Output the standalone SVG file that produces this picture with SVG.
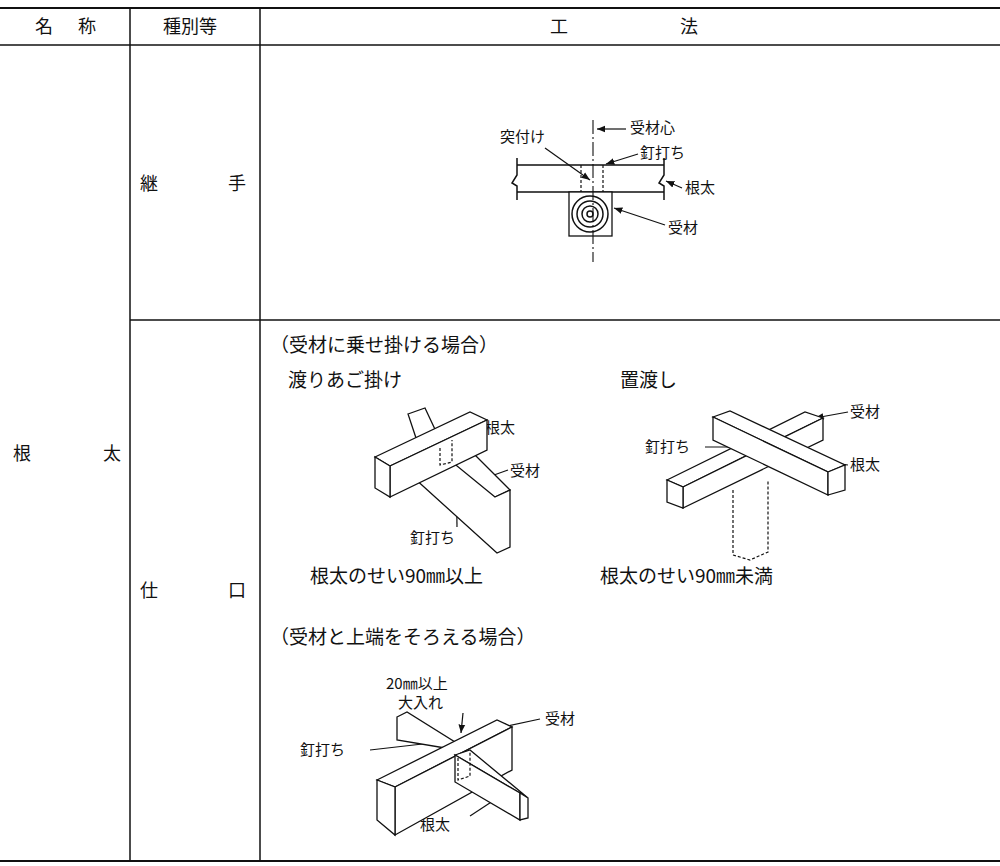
<svg xmlns="http://www.w3.org/2000/svg" width="1000" height="866" viewBox="0 0 1000 866">
<defs>
<marker id="ar" viewBox="0 0 10 10" refX="10" refY="5" markerWidth="7" markerHeight="7" orient="auto"><path d="M0,1 L10,5 L0,9 z" fill="#111"/></marker>
</defs>
<style>
.t{font-family:"Noto Sans CJK JP","Liberation Serif",serif;fill:#111}
.h{font-size:18px}.l{font-size:15px}.b{font-size:19px}
.g{stroke:#111;stroke-width:1.5;fill:none}
.w{stroke:#111;stroke-width:1.3;fill:#fff}
.d{stroke:#111;stroke-width:1.2;fill:none;stroke-dasharray:3,2}
.ld{stroke:#111;stroke-width:1.2;fill:none;marker-end:url(#ar)}
</style>
<rect width="1000" height="866" fill="#fff"/>
<g id="table" class="g">
<line x1="0" y1="8" x2="1000" y2="8" stroke-width="2"/>
<line x1="0" y1="45" x2="1000" y2="45"/>
<line x1="0" y1="861" x2="1000" y2="861" stroke-width="2"/>
<line x1="130" y1="8" x2="130" y2="861"/>
<line x1="260" y1="8" x2="260" y2="861"/>
<line x1="130" y1="320" x2="1000" y2="320"/>
</g>
<g id="headers">
<text class="t h" x="35" y="33">名</text><text class="t h" x="78" y="33">称</text>
<text class="t h" x="163" y="33">種別等</text>
<text class="t h" x="550" y="33">工</text><text class="t h" x="680" y="33">法</text>
<text class="t h" x="13" y="460">根</text><text class="t h" x="103" y="460">太</text>
<text class="t h" x="140" y="190">継</text><text class="t h" x="228" y="190">手</text>
<text class="t h" x="140" y="597">仕</text><text class="t h" x="228" y="597">口</text>
</g>
<g id="joint">
<path class="g" d="M517,165 H664 M517,192 H664 M517,158 V175 L512,183 L517,186 V200 M664,158 V175 L659,183 L664,186 V200"/>
<rect class="w" x="569" y="192" width="43" height="44" fill="#eee"/>
<g class="g" stroke-width="0.9"><circle cx="590" cy="214" r="18"/><circle cx="590" cy="214" r="13"/><circle cx="590" cy="214" r="8"/><circle cx="590" cy="214" r="3"/></g>
<line x1="593" y1="120" x2="593" y2="262" stroke="#111" stroke-width="1.1" stroke-dasharray="14,3,2,3"/>
<line class="d" x1="581" y1="165" x2="581" y2="192"/><line class="d" x1="603" y1="165" x2="603" y2="192"/>
<text class="t l" x="630" y="133">受材心</text>
<text class="t l" x="500" y="142">突付け</text>
<text class="t l" x="640" y="158">釘打ち</text>
<text class="t l" x="685" y="193">根太</text>
<text class="t l" x="668" y="233">受材</text>
</g>
<g id="conn" class="ld">
<path d="M626,129 H597"/><path d="M545,148 L590,180"/><path d="M638,154 L606,164"/><path d="M682,188 L666,181"/><path d="M665,225 L614,208"/>
<path d="M481,428 L467,428"/><path d="M508,470 L480,480"/><path d="M457,527 L456,445"/>
<path d="M848,412 L815,418"/><path d="M705,447 L743,447"/><path d="M848,465 L812,460"/>
<path d="M540,719 L498,728"/><path d="M370,750 L440,742"/><path d="M463,713 L461,733"/><path d="M470,816 L505,793"/>
</g>
<g id="upper">
<text class="t b" x="270" y="352">（受材に乗せ掛ける場合）</text>
<text class="t b" x="288" y="387">渡りあご掛け</text>
<text class="t b" x="620" y="387">置渡し</text>
<text class="t b" x="310" y="583">根太のせい90㎜以上</text>
<text class="t b" x="600" y="583">根太のせい90㎜未満</text>
<text class="t l" x="485" y="433">根太</text>
<text class="t l" x="510" y="476">受材</text>
<text class="t l" x="410" y="543">釘打ち</text>
<text class="t l" x="850" y="417">受材</text>
<text class="t l" x="645" y="452">釘打ち</text>
<text class="t l" x="850" y="470">根太</text>
</g>
<g id="d1">
<polygon class="w" points="408,414 425,408 440,440 420,450"/>
<polygon class="w" points="430,450 460,440 510,490 495,497 413,477"/>
<polygon class="w" points="495,497 510,490 510,547 497,553 413,477 440,452"/>
<polygon class="w" points="375,457 470,412 487,420 390,466"/>
<polygon class="w" points="390,466 487,420 487,450 390,497"/>
<polygon class="w" points="375,457 390,466 390,497 375,488" fill="#e6e6e6"/>
<path class="d" d="M440,448 L440,465 L452,462 L452,440"/>
</g>
<g id="d2">
<path class="d" d="M733,490 V555 L750,560 L768,552 V480"/>
<polygon class="w" points="667,480 805,412 823,418 683,487"/>
<polygon class="w" points="683,487 823,418 823,440 683,508"/>
<polygon class="w" points="667,480 683,487 683,508 667,502"/>
<polygon class="w" points="713,417 730,411 845,465 828,472"/>
<polygon class="w" points="713,417 828,472 828,495 713,440"/>
<polygon class="w" points="828,472 845,465 845,490 828,495"/>
</g>
<g id="lower">
<text class="t b" x="270" y="644">（受材と上端をそろえる場合）</text>
<text class="t l" x="386" y="689">20㎜以上</text>
<text class="t l" x="398" y="708">大入れ</text>
<text class="t l" x="545" y="724">受材</text>
<text class="t l" x="300" y="755">釘打ち</text>
<text class="t l" x="420" y="830">根太</text>
<polygon class="w" points="397,717 407,712 455,742 445,748 397,740"/>
<polygon class="w" points="377,780 497,720 512,727 395,787"/>
<polygon class="w" points="395,787 512,727 512,770 395,835"/>
<polygon class="w" points="377,780 395,787 395,835 377,820"/>
<polygon class="w" points="455,755 470,750 528,798 520,793"/>
<polygon class="w" points="455,755 520,793 520,820 455,782"/>
<polygon class="w" points="520,793 528,798 528,818 520,820" fill="#e6e6e6"/>
<path class="d" d="M458,758 L458,780 L470,776 L470,752"/>
</g>
</svg>
